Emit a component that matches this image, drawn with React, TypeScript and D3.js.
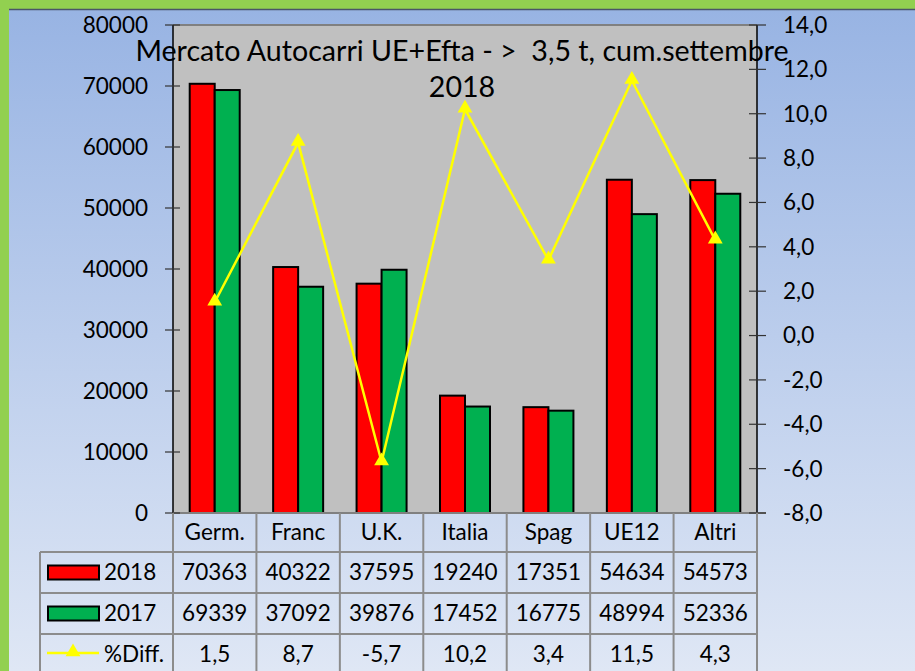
import React from "react";
import * as d3 from "d3";

const categories = ["Germ.", "Franc", "U.K.", "Italia", "Spag", "UE12", "Altri"];
const values2018 = [70363, 40322, 37595, 19240, 17351, 54634, 54573];
const values2017 = [69339, 37092, 39876, 17452, 16775, 48994, 52336];
const diffPct = [1.5, 8.7, -5.7, 10.2, 3.4, 11.5, 4.3];
const leftTicks = [0, 10000, 20000, 30000, 40000, 50000, 60000, 70000, 80000];
const rightTicks = [-8, -6, -4, -2, 0, 2, 4, 6, 8, 10, 12, 14];
const seriesNames = ["2018", "2017", "%Diff."];
const titleLines = ["Mercato Autocarri UE+Efta - >  3,5 t, cum.settembre", "2018"];

const W = 915;
const H = 671;
const PL = 173, PR = 757, PT = 25, PB = 513;
const FONT = "Lato, 'Open Sans', sans-serif";

export default function App() {
  const x = d3.scaleBand<string>().domain(categories).range([PL, PR]).paddingInner(0).paddingOuter(0);
  const yL = d3.scaleLinear().domain([0, 80000]).range([PB, PT]);
  const yR = d3.scaleLinear().domain([-8, 14]).range([PB, PT]);
  const bw = x.bandwidth();
  const barW = 25;
  const fmtR = (v: number) => v.toFixed(1).replace(".", ",");
  const line = d3
    .line<number>()
    .x((_, i) => (x(categories[i]) as number) + bw / 2)
    .y((d) => yR(d));
  const tri = d3.symbol().type(d3.symbolTriangle).size(95);
  const rowTops = [552, 593, 634, 675];
  const tableLeft = 40;
  const fs = 22.5;

  return (
    <svg width={W} height={H} style={{ position: "absolute", left: 0, top: 0 }} fontFamily={FONT}>
      <defs>
        <linearGradient id="bg" x1="0" y1="0" x2="0" y2="1">
          <stop offset="0" stopColor="#97b3e3" />
          <stop offset="1" stopColor="#dfe7f5" />
        </linearGradient>
      </defs>
      <rect x={0} y={0} width={W} height={H} fill="url(#bg)" />
      <rect x={0} y={0} width={W} height={9} fill="#92d050" />
      <rect x={0} y={0} width={9} height={H} fill="#92d050" />
      <line x1={9} x2={W} y1={9.5} y2={9.5} stroke="#4a5568" strokeWidth={1.5} />

      {/* plot area */}
      <rect x={PL} y={PT} width={PR - PL} height={PB - PT} fill="#c0c0c0" />
      <line x1={PL} x2={PR} y1={PT} y2={PT} stroke="#808080" strokeWidth={2} />

      {/* bars */}
      {categories.map((c, i) => {
        const cx = (x(c) as number) + bw / 2;
        return (
          <g key={c}>
            <rect x={cx - barW} y={yL(values2018[i])} width={barW} height={PB - yL(values2018[i])} fill="#ff0000" stroke="#000" strokeWidth={2} />
            <rect x={cx} y={yL(values2017[i])} width={barW} height={PB - yL(values2017[i])} fill="#00b050" stroke="#000" strokeWidth={2} />
          </g>
        );
      })}

      {/* axes */}
      <line x1={PL} x2={PL} y1={PT} y2={PB} stroke="#000" strokeWidth={1.5} />
      <line x1={PR} x2={PR} y1={PT} y2={PB + 10} stroke="#000" strokeWidth={1.5} />
      <line x1={PL} x2={PR + 9} y1={PB} y2={PB} stroke="#808080" strokeWidth={2} />
      {leftTicks.map((t) => (
        <g key={"l" + t}>
          <line x1={PL - 8} x2={PL + 7} y1={yL(t)} y2={yL(t)} stroke="#333" strokeWidth={1.2} />
          <text x={148} y={yL(t)} dy="0.35em" textAnchor="end" fontSize={fs} fill="#000">
            {t}
          </text>
        </g>
      ))}
      {rightTicks.map((t) => (
        <g key={"r" + t}>
          <line x1={PR - 8} x2={PR + 9} y1={yR(t)} y2={yR(t)} stroke="#333" strokeWidth={1.2} />
          <text x={783} y={yR(t)} dy="0.35em" textAnchor="start" fontSize={fs} fill="#000">
            {fmtR(t)}
          </text>
        </g>
      ))}

      {/* line series */}
      <path d={line(diffPct) as string} fill="none" stroke="#ffff00" strokeWidth={2.5} />
      {diffPct.map((d, i) => (
        <path
          key={"m" + i}
          d={tri() as string}
          transform={`translate(${(x(categories[i]) as number) + bw / 2},${yR(d) - 1})`}
          fill="#ffff00"
        />
      ))}

      {/* title */}
      {titleLines.map((t, i) => (
        <text
          key={t}
          x={462}
          y={61 + i * 36}
          textAnchor="middle"
          fontSize={28.6}
          fill="#000"
          style={{ whiteSpace: "pre" }}
        >
          {t}
        </text>
      ))}

      {/* data table */}
      <g stroke="#8c8c8c" strokeWidth={2} fill="none">
        {x.domain().map((c) => (
          <line key={"v" + c} x1={x(c) as number} x2={x(c) as number} y1={PB} y2={H} />
        ))}
        <line x1={PR} x2={PR} y1={PB} y2={H} />
        <line x1={tableLeft} x2={tableLeft} y1={rowTops[0]} y2={H} />
        {rowTops.slice(0, 3).map((r) => (
          <line key={"h" + r} x1={tableLeft} x2={PR} y1={r} y2={r} />
        ))}
      </g>
      {categories.map((c, i) => {
        const cx = (x(c) as number) + bw / 2;
        return (
          <g key={"t" + c} fontSize={fs} textAnchor="middle" fill="#000">
            <text x={cx} y={(PB + rowTops[0]) / 2} dy="0.35em">{c}</text>
            <text x={cx} y={(rowTops[0] + rowTops[1]) / 2} dy="0.35em">{values2018[i]}</text>
            <text x={cx} y={(rowTops[1] + rowTops[2]) / 2} dy="0.35em">{values2017[i]}</text>
            <text x={cx} y={(rowTops[2] + rowTops[3]) / 2} dy="0.35em">{fmtR(diffPct[i])}</text>
          </g>
        );
      })}
      {/* legend keys */}
      <rect x={48} y={(rowTops[0] + rowTops[1]) / 2 - 7} width={51} height={14} fill="#ff0000" stroke="#000" strokeWidth={2} />
      <rect x={48} y={(rowTops[1] + rowTops[2]) / 2 - 7} width={51} height={14} fill="#00b050" stroke="#000" strokeWidth={2} />
      <line x1={47} x2={99} y1={653} y2={653} stroke="#ffff00" strokeWidth={2.5} />
      <path d={tri() as string} transform="translate(73,652)" fill="#ffff00" />
      {seriesNames.map((s, i) => (
        <text key={s} x={104} y={(rowTops[i] + rowTops[i + 1]) / 2} dy="0.35em" fontSize={fs} fill="#000">
          {s}
        </text>
      ))}
    </svg>
  );
}
